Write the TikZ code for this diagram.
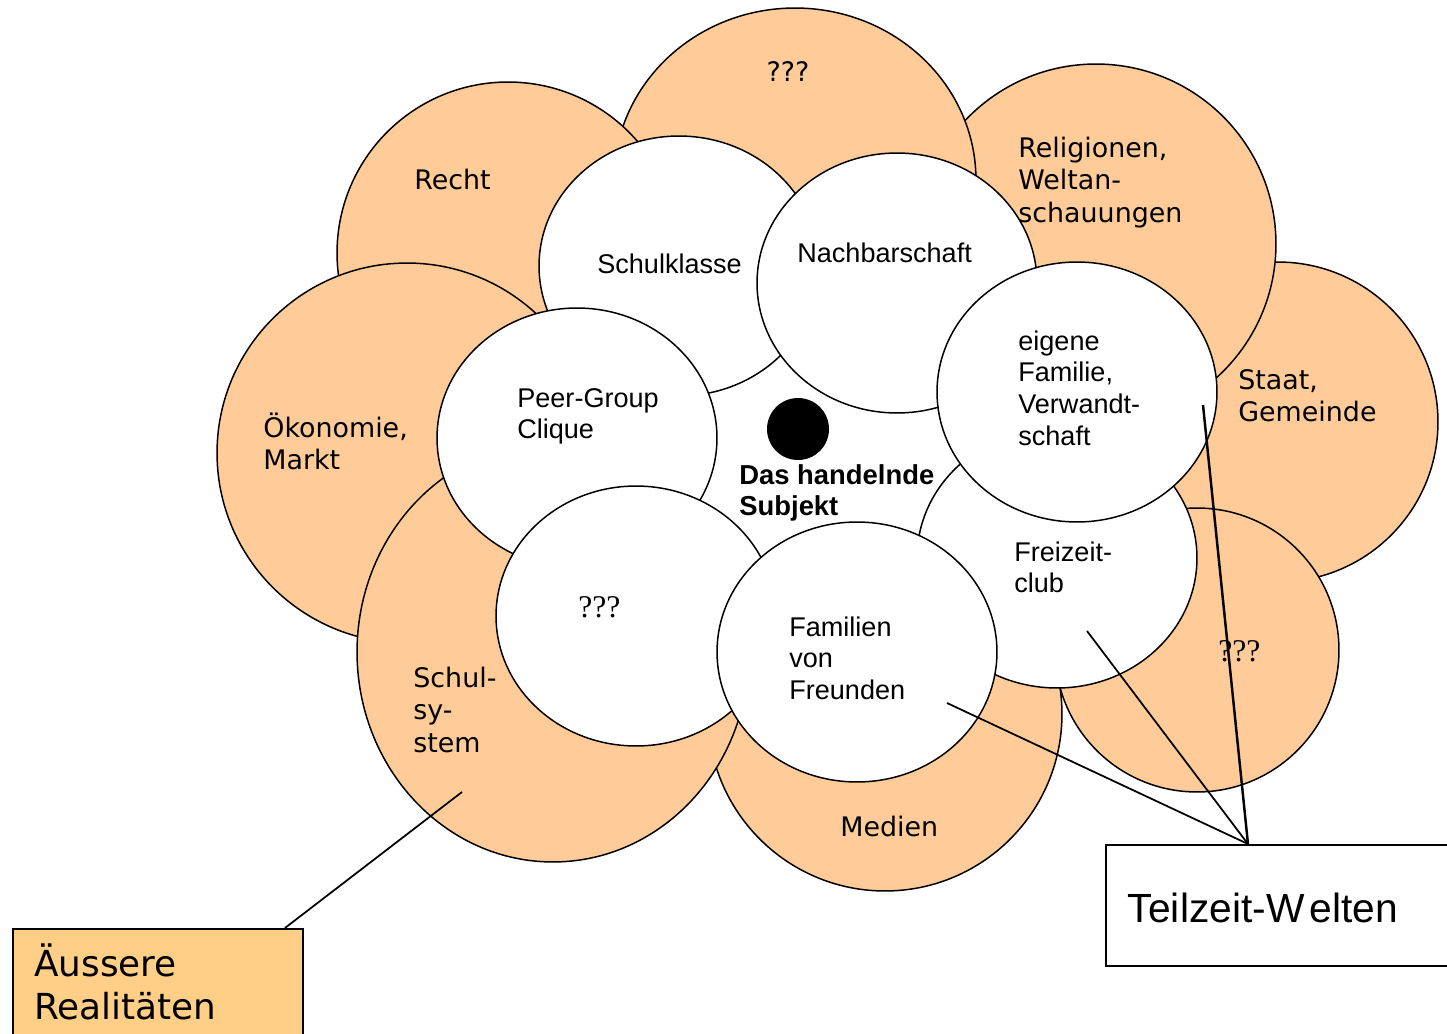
\documentclass[tikz,border=0pt]{standalone}
\usepackage{fontspec}
\usetikzlibrary{shapes.geometric,calc}
\newfontfamily\vfont{DejaVu Sans}
\newfontfamily\afont{Liberation Sans}
\newfontfamily\sfont{Liberation Serif}
\definecolor{orangefill}{HTML}{FFCC99}
\definecolor{boxfill}{HTML}{FFCF88}
\newcommand\mlines[1]{\vtop{\halign{##\hfil\cr#1\crcr}}}
\begin{document}
\begin{tikzpicture}[x=0.02cm, y=-0.02cm,
  orangecirc/.style={ellipse, draw=black, line width=0.85pt, fill=orangefill, inner sep=0pt},
  whitecirc/.style={ellipse, draw=black, line width=0.85pt, fill=white, inner sep=0pt, minimum width=5.6cm, minimum height=5.2cm},
  olabel/.style={anchor=base west, inner sep=0pt, font=\vfont\fontsize{15.3}{18.7}\selectfont},
  wlabel/.style={anchor=base west, inner sep=0pt, font=\afont\fontsize{15.4}{18.1}\selectfont},
  qlabel/.style={anchor=base west, inner sep=0pt, font=\sfont\fontsize{18}{20}\selectfont},
  conn/.style={draw=black, line width=1pt},
]
\useasboundingbox (0,0) rectangle (1447,1034);
\fill[white] (0,0) rectangle (1447,1034);
\clip (0,0) rectangle (1447,1034);

% outer (orange) worlds
\node[orangecirc, minimum size=6.4cm] (staat) at (1278,422) {};
\node[orangecirc, minimum size=7.2cm] (relig) at (1096,244) {};
\node[orangecirc, minimum width=7.24cm, minimum height=6.88cm] (topq) at (795,180) {};
\node[orangecirc, minimum size=6.84cm] (recht) at (508,253) {};
\node[orangecirc, minimum size=7.6cm] (oeko) at (407,453) {};
\node[orangecirc, minimum size=7.08cm] (medien) at (885,714) {};
\node[orangecirc, minimum width=7.84cm, minimum height=8.4cm] (schul) at (553,652) {};
\node[orangecirc, minimum size=5.68cm] (lowq) at (1197,650) {};

% inner (white) worlds
\node[whitecirc] (klasse) at (679,266) {};
\node[whitecirc] (nachbar) at (897,283) {};
\node[whitecirc] (freizeit) at (1057,558) {};
\node[whitecirc] (familie) at (1077,392) {};
\node[whitecirc] (peer) at (577,438) {};
\node[whitecirc] (whq) at (636,616) {};
\node[whitecirc] (freunde) at (857,652) {};

% subject
\node[circle, fill=black, inner sep=0pt, minimum size=1.24cm] (dot) at (798,429) {};

% labels of outer worlds
\node[olabel, anchor=base] (tTopq) at (788,82) {???};
\node[olabel] (tRecht) at (414,189) {Recht};
\node[olabel] (tRelig) at (1018,157) {\mlines{Religionen,\cr Weltan-\cr schauungen}};
\node[olabel] (tStaat) at (1238,389) {\mlines{Staat,\cr Gemeinde}};
\node[olabel] (tOeko) at (263,437) {\mlines{Ökonomie,\cr Markt}};
\node[olabel] (tSchul) at (413,687) {\mlines{Schul-\cr sy-\cr stem}};
\node[olabel] (tMedien) at (840,836) {Medien};
\node[qlabel] (tLowq) at (1218,661) {???};

% labels of inner worlds
\node[wlabel] (tKlasse) at (597,273) {Schulklasse};
\node[wlabel] (tNachbar) at (797,262) {Nachbarschaft};
\node[wlabel] (tFamilie) at (1018,350) {\mlines{eigene\cr Familie,\cr Verwandt-\cr schaft}};
\node[wlabel] (tPeer) at (517,407) {\mlines{Peer-Group\cr Clique}};
\node[wlabel, font=\afont\fontsize{15.6}{18.1}\selectfont\bfseries] (tSubj) at (739,484) {\mlines{Das handelnde\cr Subjekt}};
\node[qlabel] (tWhq) at (578,617) {???};
\node[wlabel] (tFreizeit) at (1014,561) {\mlines{Freizeit-\cr club}};
\node[wlabel] (tFreunde) at (789,636) {\mlines{Familien\cr von\cr Freunden}};

% legend boxes
\node[draw=black, line width=1.3pt, fill=boxfill, anchor=north west, inner xsep=0.42cm, inner ysep=0pt,
      text width=4.96cm, text height=0.94cm, text depth=1.8cm, align=left,
      font=\vfont\fontsize{20.4}{24.4}\selectfont] (ar) at (12,928) {\mlines{Äussere\cr Realitäten}};
\node[draw=black, line width=1pt, fill=white, anchor=north west, inner xsep=0.44cm, inner ysep=0pt,
      text width=6.3cm, text height=1.56cm, text depth=0.86cm, align=left,
      font=\afont\fontsize{23.2}{28}\selectfont] (tw) at (1105,844) {Teilzeit-W\kern0.12em elten};

% connectors
\coordinate (pSchul) at (462,792);
\coordinate (pFreunde) at (947,703);
\coordinate (pFreizeit) at (1087,631);
\coordinate (pFamilie) at (1203,405);
\coordinate (twTop) at ([xshift=2.86cm]tw.north west);
\draw[conn] (pSchul) -- ([xshift=5.46cm]ar.north west);
\draw[conn] (pFreunde) -- (twTop);
\draw[conn] (pFreizeit) -- (twTop);
\draw[conn, line width=1.4pt] (pFamilie) -- (twTop);
\end{tikzpicture}
\end{document}
